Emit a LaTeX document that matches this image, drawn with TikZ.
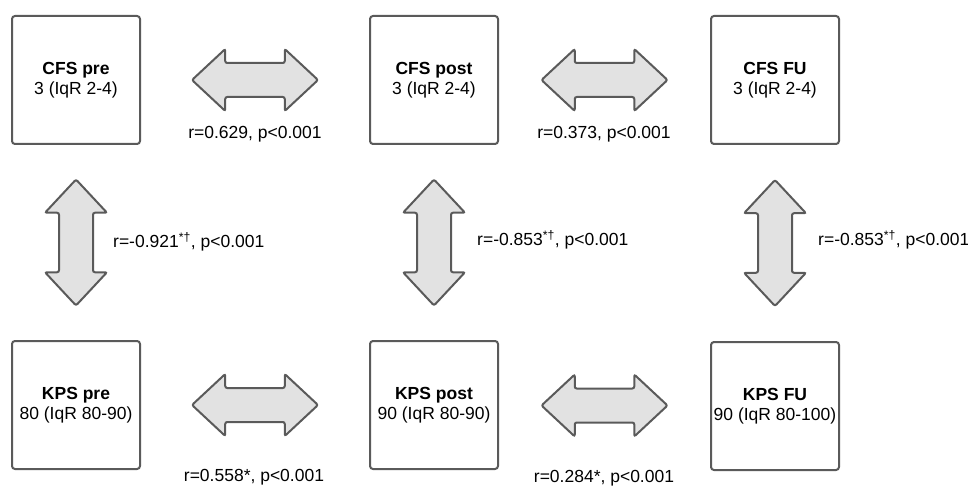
\documentclass[tikz,border=0pt]{standalone}
\usepackage{fontspec}
\setmainfont{Liberation Sans}
\usetikzlibrary{shapes.arrows,calc}

\definecolor{linegray}{HTML}{5A5A5A}
\definecolor{arrowfill}{HTML}{E2E2E2}

\tikzset{
    box/.style={draw=linegray, line width=2pt, rounded corners=3pt, fill=white,
        minimum size=128pt, inner sep=0pt, align=center,
        font=\fontsize{17.5}{20}\selectfont},
    harrow/.style={double arrow, draw=linegray, fill=arrowfill, line width=2pt,
        rounded corners=2pt, minimum height=126pt, minimum width=60pt,
        double arrow head extend=14pt, double arrow tip angle=86, inner sep=16pt},
    varrow/.style={harrow, shape border rotate=90},
    corr/.style={font=\fontsize{17.5}{20}\selectfont, inner sep=0pt}
}

\begin{document}
\begin{tikzpicture}[x=1pt, y=-1pt]
    \useasboundingbox (0, 0) rectangle (968, 486);
    % boxes
    \node[box] (cfspre) at(76, 80) {\textbf{CFS pre}\\3 (IqR 2-4)};
    \node[box] (cfspost) at(434, 80) {\textbf{CFS post}\\3 (IqR 2-4)};
    \node[box] (cfsfu) at(775, 80) {\textbf{CFS FU}\\3 (IqR 2-4)};
    \node[box] (kpspre) at(76, 405) {\textbf{KPS pre}\\80 (IqR 80-90)};
    \node[box] (kpspost) at(434, 405) {\textbf{KPS post}\\90 (IqR 80-90)};
    \node[box] (kpsfu) at(775, 406) {\textbf{KPS FU}\\90 (IqR 80-100)};
    % horizontal arrows
    \node[harrow] (cfsab) at($(cfspre)!0.5!(cfspost)$) {};
    \node[harrow] (cfsbc) at($(cfspost)!0.5!(cfsfu)$) {};
    \node[harrow] (kpsab) at($(kpspre)!0.5!(kpspost)$) {};
    \node[harrow] (kpsbc) at($(kpspost)!0.5!(kpsfu)$) {};
    % vertical arrows
    \node[varrow] (pre) at($(cfspre)!0.5!(kpspre)$) {};
    \node[varrow] (post) at($(cfspost)!0.5!(kpspost)$) {};
    \node[varrow] (fu) at($(cfsfu)!0.5!(kpsfu)$) {};
    % correlations
    \node[corr] (rcfsab) at(255, 134) {r=0.629, p<0.001};
    \node[corr] (rcfsbc) at(604, 134) {r=0.373, p<0.001};
    \node[corr] (rkpsab) at(254, 477) {r=0.558*, p<0.001};
    \node[corr] (rkpsbc) at(604, 478) {r=0.284*, p<0.001};
    \node[corr, anchor=west] (rpre) at(113, 242) {r=-0.921\textsuperscript{*†}, p<0.001};
    \node[corr, anchor=west] (rpost) at(477, 240) {r=-0.853\textsuperscript{*†}, p<0.001};
    \node[corr, anchor=west] (rfu) at(818, 240) {r=-0.853\textsuperscript{*†}, p<0.001};
\end{tikzpicture}
\end{document}
